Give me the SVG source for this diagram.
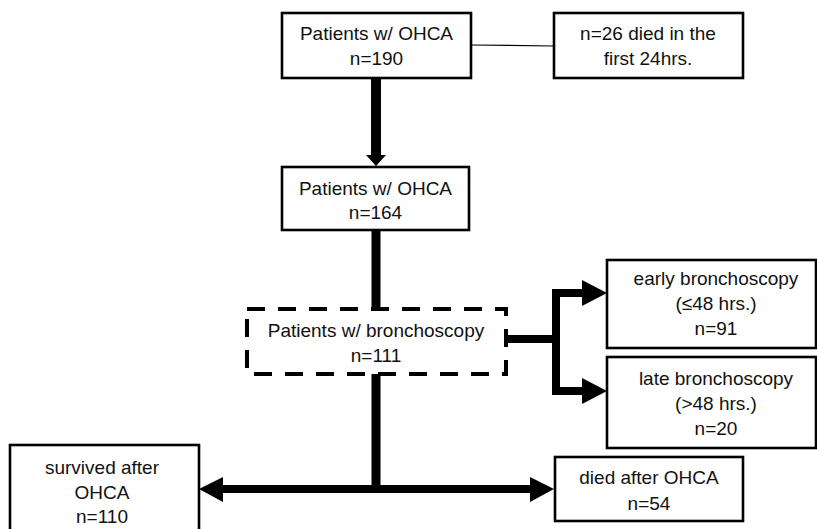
<svg xmlns="http://www.w3.org/2000/svg" width="817" height="529" viewBox="0 0 817 529">
<style>
.box{fill:#fff;stroke:#000;stroke-width:2.6}
.dash{fill:#fff;stroke:#000;stroke-width:4;stroke-dasharray:18,13}
.t{font-family:"Liberation Sans",Arial,sans-serif;font-size:19px;fill:#111;text-anchor:middle}
.thick{fill:none;stroke:#000;stroke-linejoin:miter}
.head{fill:#000}
</style>
<rect width="817" height="529" fill="#fff"/>
<g id="connectors">
<line x1="471" y1="45" x2="554" y2="46" stroke="#000" stroke-width="1.2"/>
<line class="thick" x1="376" y1="78" x2="376" y2="156" stroke-width="10"/>
<polygon class="head" points="366,155 386,155 376,166"/>
<line class="thick" x1="376" y1="230" x2="376" y2="309" stroke-width="9"/>
<line class="thick" x1="376" y1="374" x2="376" y2="493" stroke-width="9"/>
<line class="thick" x1="222" y1="489" x2="531" y2="489" stroke-width="8"/>
<polygon class="head" points="199,489 223,477 223,502"/>
<polygon class="head" points="554,489 530,477 530,502"/>
<line class="thick" x1="506" y1="339" x2="556" y2="339" stroke-width="8"/>
<path class="thick" d="M583,293 H556 V391 H583" stroke-width="8"/>
<polygon class="head" points="582,280 607,293 582,306"/>
<polygon class="head" points="582,378 607,391 582,404"/>
</g>
<g id="n190">
<rect class="box" x="282" y="13" width="189" height="65"/>
<text class="t" x="376.5" y="40">Patients w/ OHCA</text>
<text class="t" x="376.5" y="65">n=190</text>
</g>
<g id="n26">
<rect class="box" x="554" y="13" width="189" height="65"/>
<text class="t" x="648" y="40">n=26 died in the</text>
<text class="t" x="648" y="65">first 24hrs.</text>
</g>
<g id="n164">
<rect class="box" x="282" y="167" width="187" height="63"/>
<text class="t" x="375.5" y="195">Patients w/ OHCA</text>
<text class="t" x="375.5" y="219">n=164</text>
</g>
<g id="n111">
<rect class="dash" x="247" y="309" width="259" height="65"/>
<text class="t" x="376" y="337">Patients w/ bronchoscopy</text>
<text class="t" x="376" y="362">n=111</text>
</g>
<g id="early">
<rect class="box" x="607" y="260" width="209" height="88"/>
<text class="t" x="716" y="285">early bronchoscopy</text>
<text class="t" x="716" y="310">(≤48 hrs.)</text>
<text class="t" x="716" y="335">n=91</text>
</g>
<g id="late">
<rect class="box" x="607" y="357" width="209" height="91"/>
<text class="t" x="716" y="385">late bronchoscopy</text>
<text class="t" x="716" y="410">(&gt;48 hrs.)</text>
<text class="t" x="716" y="435">n=20</text>
</g>
<g id="survived">
<rect class="box" x="10" y="445" width="189" height="95"/>
<text class="t" x="102" y="474">survived after</text>
<text class="t" x="102" y="499">OHCA</text>
<text class="t" x="102" y="523">n=110</text>
</g>
<g id="died">
<rect class="box" x="555" y="457" width="188" height="64"/>
<text class="t" x="649" y="484">died after OHCA</text>
<text class="t" x="649" y="510">n=54</text>
</g>
</svg>
